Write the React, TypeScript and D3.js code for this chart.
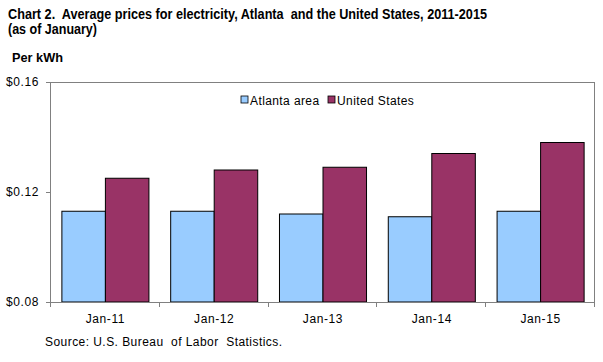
import React from "react";
import * as d3 from "d3";

const categories = ["Jan-11", "Jan-12", "Jan-13", "Jan-14", "Jan-15"];
const seriesNames = ["Atlanta area", "United States"];
const atlanta = [0.113, 0.113, 0.112, 0.111, 0.113];
const unitedStates = [0.125, 0.128, 0.129, 0.134, 0.138];
const yTicks = [0.08, 0.12, 0.16];
const colors = ["#99ccff", "#993366"];

const App: React.FC = () => {
  const width = 603;
  const height = 362;
  const plot = { left: 51, right: 595, top: 82, bottom: 302 };

  const x = d3
    .scaleBand<string>()
    .domain(categories)
    .range([plot.left, plot.right])
    .paddingInner(0.2)
    .paddingOuter(0.1);

  const xSub = d3
    .scaleBand<string>()
    .domain(seriesNames)
    .range([0, x.bandwidth()]);

  const y = d3.scaleLinear().domain([0.08, 0.16]).range([plot.bottom, plot.top]);

  const series = [atlanta, unitedStates];
  const step = x.step();
  const font = "Arial, 'Liberation Sans', sans-serif";

  return (
    <svg
      width={width}
      height={height}
      style={{ position: "absolute", left: 0, top: 0, fontFamily: font }}
    >
      <rect width={width} height={height} fill="#fff" />
      <text
        x={8}
        y={18.5}
        fontSize={15}
        fontWeight="bold"
        textLength={479}
        lengthAdjust="spacingAndGlyphs"
        style={{ whiteSpace: "pre" }}
      >
        {"Chart 2.  Average prices for electricity, Atlanta  and the United States, 2011-2015"}
      </text>
      <text
        x={8}
        y={34}
        fontSize={15}
        fontWeight="bold"
        textLength={89}
        lengthAdjust="spacingAndGlyphs"
      >
        (as of January)
      </text>
      <text x={12} y={62} fontSize={12} fontWeight="bold" textLength={51} lengthAdjust="spacingAndGlyphs">
        Per kWh
      </text>

      {/* plot frame */}
      <line x1={plot.left} x2={plot.right} y1={plot.top + 0.5} y2={plot.top + 0.5} stroke="#808080" />
      <line x1={plot.right - 0.5} x2={plot.right - 0.5} y1={plot.top} y2={plot.bottom} stroke="#808080" />
      <line x1={plot.left - 0.5} x2={plot.left - 0.5} y1={plot.top} y2={plot.bottom + 5} stroke="#808080" />

      {/* y ticks */}
      {yTicks.map((t) => (
        <g key={t}>
          <line x1={plot.left - 5} x2={plot.left} y1={Math.round(y(t)) + 0.5} y2={Math.round(y(t)) + 0.5} stroke="#808080" />
          <text x={39} y={y(t) + 4} fontSize={12} textAnchor="end" letterSpacing={0.6}>
            {d3.format("$.2f")(t)}
          </text>
        </g>
      ))}

      {/* bars */}
      {categories.map((c, i) => (
        <g key={c} transform={`translate(${x(c)},0)`}>
          {series.map((vals, s) => (
            <rect
              key={s}
              x={xSub(seriesNames[s])}
              y={y(vals[i])}
              width={xSub.bandwidth()}
              height={plot.bottom - y(vals[i])}
              fill={colors[s]}
              stroke="#000"
              strokeWidth={1}
            />
          ))}
        </g>
      ))}

      {/* x axis */}
      <line x1={plot.left} x2={plot.right} y1={plot.bottom + 0.5} y2={plot.bottom + 0.5} stroke="#808080" />
      {categories.map((c) => {
        const left = (x(c) ?? 0) - step * 0.1;
        return (
          <g key={c}>
            <line x1={Math.round(left + step) - 0.5} x2={Math.round(left + step) - 0.5} y1={plot.bottom} y2={plot.bottom + 5} stroke="#808080" />
            <text x={(x(c) ?? 0) + x.bandwidth() / 2} y={323} fontSize={12} textAnchor="middle" letterSpacing={0.6}>
              {c}
            </text>
          </g>
        );
      })}

      {/* legend */}
      {seriesNames.map((name, s) => {
        const lx = [241, 328][s];
        return (
          <g key={name}>
            <rect x={lx} y={96} width={7} height={7} fill={colors[s]} stroke="#000" strokeWidth={0.8} />
            <text x={lx + 9} y={105} fontSize={12} letterSpacing={0.4}>
              {name}
            </text>
          </g>
        );
      })}

      <text x={45} y={346} fontSize={12} textLength={237} lengthAdjust="spacing" style={{ whiteSpace: "pre" }}>
        {"Source: U.S. Bureau  of Labor  Statistics."}
      </text>
    </svg>
  );
};

export default App;
